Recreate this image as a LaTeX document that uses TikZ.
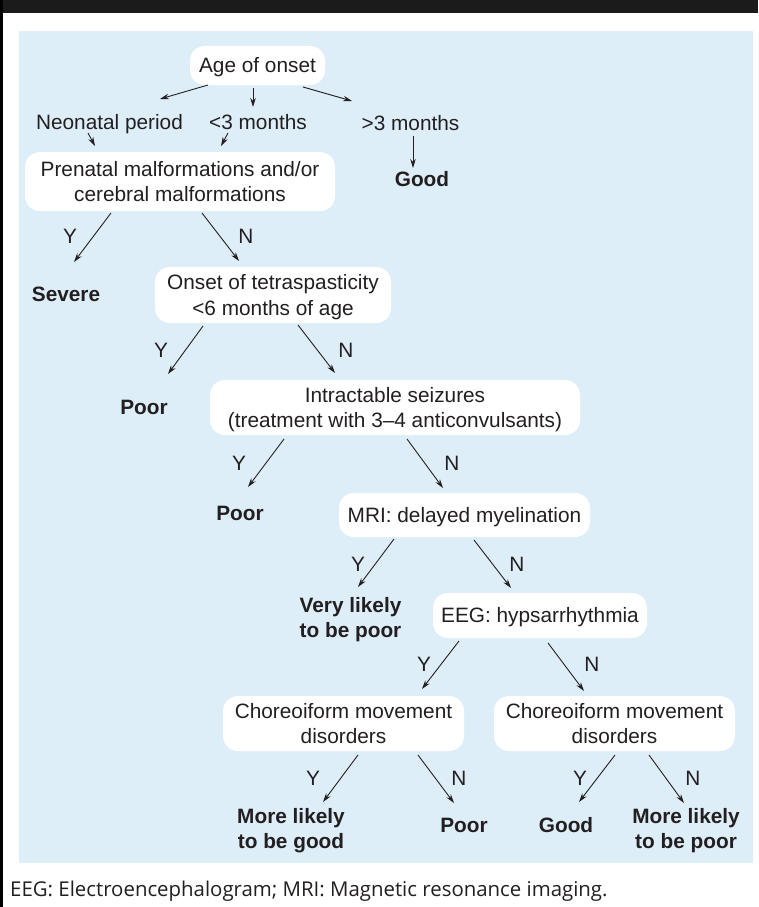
\documentclass[tikz,border=0pt]{standalone}
\usepackage{fontspec}
\setmainfont{Liberation Sans}
\newfontfamily\capfont{Open Sans}
\usetikzlibrary{arrows.meta}
\definecolor{panel}{HTML}{DDEEF9}
\definecolor{ink}{HTML}{231F20}
\definecolor{bar}{HTML}{1B1B1B}
\tikzset{
  base/.style={font=\fontsize{20.8}{25.5}\selectfont, text=ink, inner sep=0pt, align=center, text height=14.9pt, text depth=0pt},
  twoline/.style={text height=40.4pt, text depth=0pt},
  box/.style={base, fill=white, rounded corners=15pt},
  outc/.style={base, font=\fontsize{20.8}{25.5}\selectfont\bfseries},
  yn/.style={base},
  arr/.style={draw=ink, line width=0.9pt, -{Stealth[length=9pt,width=5.5pt]}},
}
\begin{document}
\begin{tikzpicture}[x=1pt,y=-1pt]
\useasboundingbox (0,0) rectangle (758,907);
\fill[white] (0,0) rectangle (758,907);
\fill[bar] (0,0) rectangle (758,13);
\fill[black] (0,0) rectangle (3,907);
\fill[panel] (19,31) rectangle (753,863);

% boxes
\node[box, minimum width=135pt, minimum height=39pt] (age) at (257.5,65.5) {Age of onset};
\node[box, twoline, minimum width=310pt, minimum height=59pt] (prenatal) at (180,181.5) {Prenatal malformations and/or\\cerebral malformations};
\node[box, twoline, minimum width=236pt, minimum height=56pt] (tetra) at (273,295) {Onset of tetraspasticity\\<6 months of age};
\node[box, twoline, minimum width=370pt, minimum height=55pt] (intract) at (395,407.5) {Intractable seizures\\(treatment with 3–4 anticonvulsants)};
\node[box, minimum width=251pt, minimum height=44pt] (mri) at (464.5,515) {MRI: delayed myelination};
\node[box, minimum width=214pt, minimum height=45pt] (eeg) at (540,615.5) {EEG: hypsarrhythmia};
\node[box, twoline, minimum width=241pt, minimum height=55pt] (chL) at (343.5,723.5) {Choreoiform movement\\disorders};
\node[box, twoline, minimum width=241pt, minimum height=55pt] (chR) at (614.5,723.5) {Choreoiform movement\\disorders};

% plain labels
\node[base] (neo) at (109.5,122) {Neonatal period};
\node[base] (lt3) at (258,122) {<3 months};
\node[base] (gt3) at (410.5,123) {>3 months};

% outcomes
\node[outc] (good1) at (422,179) {Good};
\node[outc] (severe) at (66,294) {Severe};
\node[outc] (poor1) at (144,407) {Poor};
\node[outc] (poor2) at (240,513) {Poor};
\node[outc, twoline] (vlikely) at (350.5,617.5) {Very likely\\to be poor};
\node[outc, twoline] (mlgood) at (291,828.5) {More likely\\to be good};
\node[outc] (poor3) at (464,825) {Poor};
\node[outc] (good2) at (566,825) {Good};
\node[outc, twoline] (mlpoor) at (686,828.5) {More likely\\to be poor};

% Y/N labels
\node[yn] (y1) at (70,236) {Y};
\node[yn] (n1) at (246,236) {N};
\node[yn] (y2) at (161,350) {Y};
\node[yn] (n2) at (346,350) {N};
\node[yn] (y3) at (239,463) {Y};
\node[yn] (n3) at (452,463) {N};
\node[yn] (y4) at (358,564) {Y};
\node[yn] (n4) at (517,564) {N};
\node[yn] (y5) at (424,664) {Y};
\node[yn] (n5) at (592,664) {N};
\node[yn] (y6) at (313,778) {Y};
\node[yn] (n6) at (459,778) {N};
\node[yn] (y7) at (580,778) {Y};
\node[yn] (n7) at (693,778) {N};

% arrows
\draw[arr] ([shift={(-49.5,19.5)}]age.center) -- ([shift={(50.5,-23)}]neo.center);
\draw[arr] ([shift={(-4.5,22.5)}]age.center) -- ([shift={(-5,-15)}]lt3.center);
\draw[arr] ([shift={(45.5,21.5)}]age.center) -- ([shift={(-58.5,-22)}]gt3.center);
\draw[arr] ([shift={(-21.5,11)}]neo.center) -- ([shift={(-85,-35.5)}]prenatal.center);
\draw[arr] ([shift={(-30,11)}]lt3.center) -- ([shift={(41,-35.5)}]prenatal.center);
\draw[arr] ([shift={(2.5,13)}]gt3.center) -- ([shift={(-9,-11)}]good1.center);
\draw[arr] ([shift={(-69,31.5)}]prenatal.center) -- ([shift={(8,-32)}]severe.center);
\draw[arr] ([shift={(22,31.5)}]prenatal.center) -- ([shift={(-34,-34)}]tetra.center);
\draw[arr] ([shift={(-70,31)}]tetra.center) -- ([shift={(24,-33)}]poor1.center);
\draw[arr] ([shift={(25,30)}]tetra.center) -- ([shift={(-60,-34.5)}]intract.center);
\draw[arr] ([shift={(-111,31.5)}]intract.center) -- ([shift={(8,-26)}]poor2.center);
\draw[arr] ([shift={(12,31.5)}]intract.center) -- ([shift={(-21.5,-27)}]mri.center);
\draw[arr] ([shift={(-70.5,24)}]mri.center) -- ([shift={(7.5,-30.5)}]vlikely.center);
\draw[arr] ([shift={(9.5,25)}]mri.center) -- ([shift={(-29,-27.5)}]eeg.center);
\draw[arr] ([shift={(-81,25.5)}]eeg.center) -- ([shift={(78.5,-34.5)}]chL.center);
\draw[arr] ([shift={(8,27.5)}]eeg.center) -- ([shift={(-30.5,-32.5)}]chR.center);
\draw[arr] ([shift={(14.5,31.5)}]chL.center) -- ([shift={(32,-26.5)}]mlgood.center);
\draw[arr] ([shift={(74.5,31.5)}]chL.center) -- ([shift={(-10,-22)}]poor3.center);
\draw[arr] ([shift={(0.5,31.5)}]chR.center) -- ([shift={(13,-23)}]good2.center);
\draw[arr] ([shift={(34.5,31.5)}]chR.center) -- ([shift={(-2,-25.5)}]mlpoor.center);

% caption
\node[anchor=base west, inner sep=0pt, text=ink, font=\capfont\fontsize{20.4}{24}\selectfont] (cap) at (10,896) {EEG: Electroencephalogram; MRI: Magnetic resonance imaging.};
\end{tikzpicture}
\end{document}
